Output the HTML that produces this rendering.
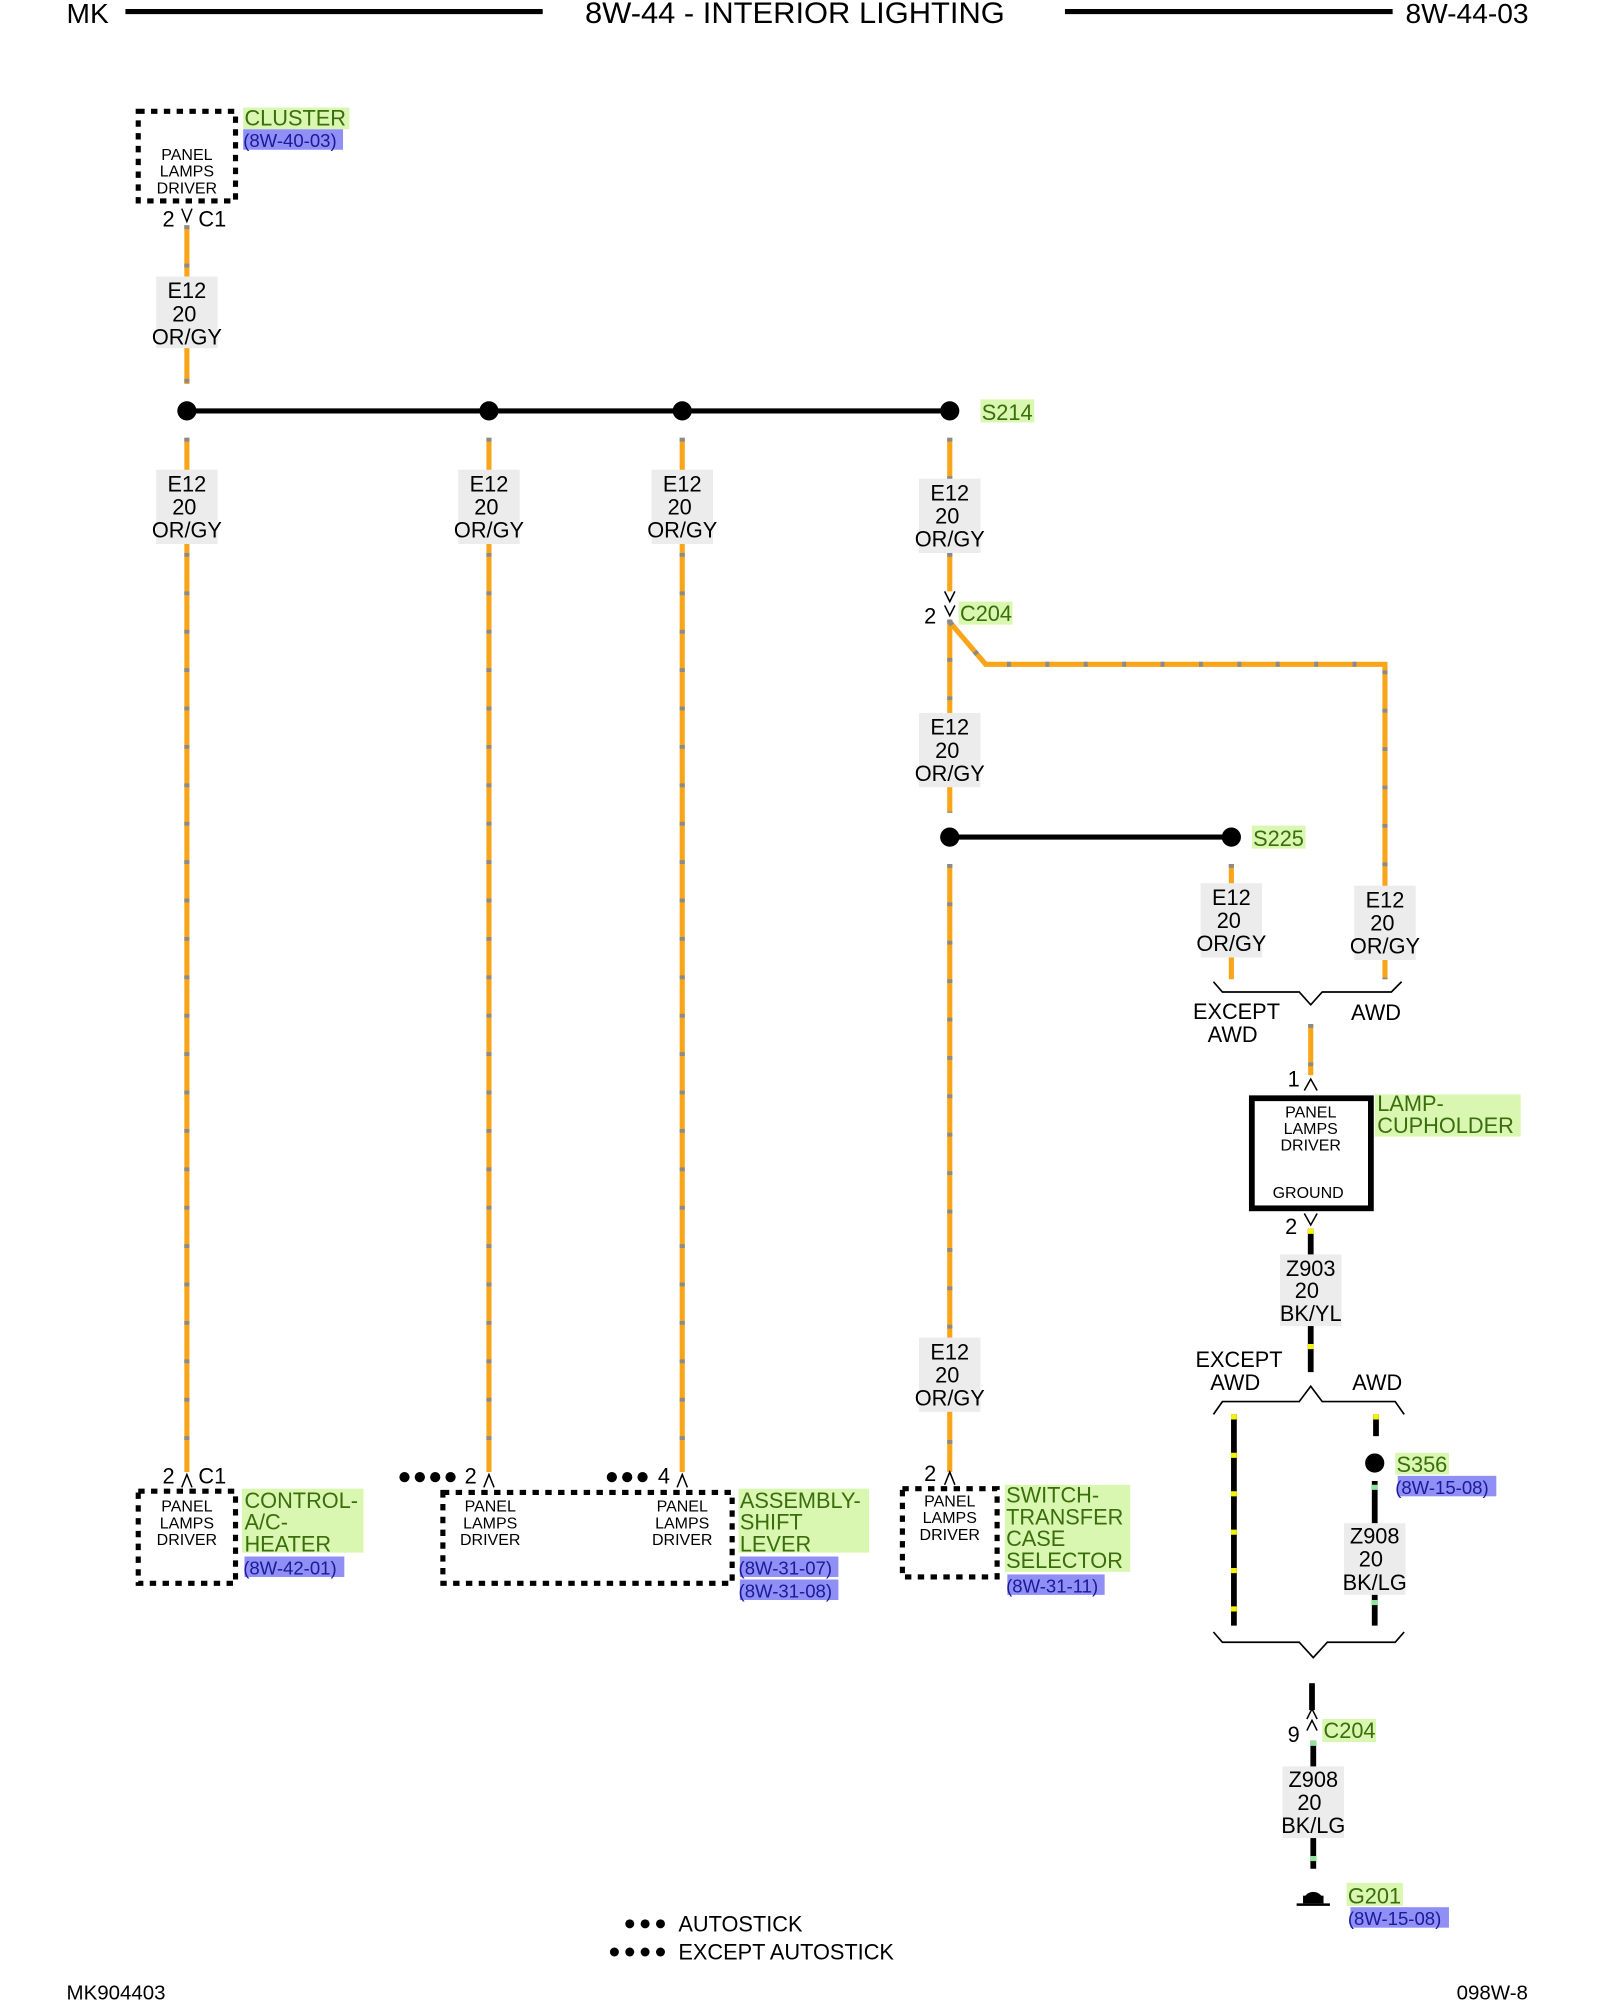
<!DOCTYPE html>
<html><head><meta charset="utf-8"><style>
html,body{margin:0;padding:0;background:#fff;}
svg{display:block;}
text{font-family:"Liberation Sans",Arial,sans-serif;fill:#000;}
.or{stroke:#f9a51a;stroke-width:4;fill:none}
.og{stroke:#8a8a8a;stroke-width:4;fill:none;stroke-dasharray:3 27}
.bk{stroke:#000;stroke-width:4.5;fill:none}
.yl{stroke:#f5f500;stroke-width:4.5;fill:none;stroke-dasharray:4 26}
.lg{stroke:#8fe39a;stroke-width:4.5;fill:none;stroke-dasharray:4 26}
.lb{fill:#ececec}
.w{font-size:17px;text-anchor:middle}
.s{font-size:12.5px;text-anchor:middle}
.g{fill:#d9f7b0}
.gt{fill:#3a6e0c;font-size:17px}
.b{fill:#8f8ff5}
.bt{fill:#1a1a9a;font-size:14.5px}
.dash{fill:none;stroke:#000;stroke-width:4;stroke-dasharray:5 5}
.br{fill:none;stroke:#000;stroke-width:1.3}
.cn{fill:none;stroke:#000;stroke-width:1.2}
</style></head><body>
<svg width="1600" height="2000" viewBox="0 0 1250 1562.5" xmlns="http://www.w3.org/2000/svg">
<!-- header -->
<text x="52" y="18" font-size="22">MK</text>
<line x1="98" y1="9" x2="424" y2="9" stroke="#000" stroke-width="4"/>
<text x="621" y="18" font-size="23" text-anchor="middle" textLength="328" lengthAdjust="spacingAndGlyphs">8W-44 - INTERIOR LIGHTING</text>
<line x1="832" y1="9" x2="1088" y2="9" stroke="#000" stroke-width="4"/>
<text x="1098" y="18" font-size="22">8W-44-03</text>

<!-- cluster -->
<rect x="108" y="87" width="76" height="70" class="dash"/>
<text class="s" x="146" y="125">PANEL</text><text class="s" x="146" y="138">LAMPS</text><text class="s" x="146" y="151">DRIVER</text>
<rect x="190" y="84" width="83" height="17" class="g"/><text x="191" y="98" class="gt">CLUSTER</text>
<rect x="190" y="101" width="78" height="16" class="b"/><text x="190" y="115" class="bt">(8W-40-03)</text>
<text x="127" y="177" font-size="17">2</text><text x="155" y="177" font-size="17">C1</text>
<path class="cn" d="M142 163 L146 173 L150 163"/>

<!-- wires orange -->
<g>
<path class="or" d="M146 176V300"/><path class="og" d="M146 176V300"/>
<path class="or" d="M146 342V1150"/><path class="og" d="M146 342V1150"/>
<path class="or" d="M382 342V1150"/><path class="og" d="M382 342V1150"/>
<path class="or" d="M533 342V1150"/><path class="og" d="M533 342V1150"/>
<path class="or" d="M742 342V462"/><path class="og" d="M742 342V462"/>
<path class="or" d="M742 484V635"/><path class="og" d="M742 484V635"/>
<path class="or" d="M742 486L770 519H1082V765"/><path class="og" d="M742 486L770 519H1082V765"/>
<path class="or" d="M742 675V1150"/><path class="og" d="M742 675V1150"/>
<path class="or" d="M962 675V765"/><path class="og" d="M962 675V765"/>
<path class="or" d="M1024 800V840"/><path class="og" d="M1024 800V840"/>
</g>

<!-- bus S214 -->
<line x1="146" y1="321" x2="742" y2="321" stroke="#000" stroke-width="4"/>
<circle cx="146" cy="321" r="7.5"/><circle cx="382" cy="321" r="7.5"/><circle cx="533" cy="321" r="7.5"/><circle cx="742" cy="321" r="7.5"/>
<rect x="766" y="312" width="42" height="18" class="g"/><text x="767" y="328" class="gt">S214</text>

<!-- wire labels -->
<g>
<rect class="lb" x="122" y="216" width="48" height="56"/><text class="w" x="146" y="233">E12</text><text class="w" x="144" y="251">20</text><text class="w" x="146" y="269">OR/GY</text>
<rect class="lb" x="122" y="367" width="48" height="58"/><text class="w" x="146" y="384">E12</text><text class="w" x="144" y="402">20</text><text class="w" x="146" y="420">OR/GY</text>
<rect class="lb" x="358" y="367" width="48" height="58"/><text class="w" x="382" y="384">E12</text><text class="w" x="380" y="402">20</text><text class="w" x="382" y="420">OR/GY</text>
<rect class="lb" x="509" y="367" width="48" height="58"/><text class="w" x="533" y="384">E12</text><text class="w" x="531" y="402">20</text><text class="w" x="533" y="420">OR/GY</text>
<rect class="lb" x="718" y="374" width="48" height="58"/><text class="w" x="742" y="391">E12</text><text class="w" x="740" y="409">20</text><text class="w" x="742" y="427">OR/GY</text>
<rect class="lb" x="718" y="557" width="48" height="58"/><text class="w" x="742" y="574">E12</text><text class="w" x="740" y="592">20</text><text class="w" x="742" y="610">OR/GY</text>
<rect class="lb" x="718" y="1045" width="48" height="58"/><text class="w" x="742" y="1062">E12</text><text class="w" x="740" y="1080">20</text><text class="w" x="742" y="1098">OR/GY</text>
<rect class="lb" x="938" y="690" width="48" height="58"/><text class="w" x="962" y="707">E12</text><text class="w" x="960" y="725">20</text><text class="w" x="962" y="743">OR/GY</text>
<rect class="lb" x="1058" y="692" width="48" height="58"/><text class="w" x="1082" y="709">E12</text><text class="w" x="1080" y="727">20</text><text class="w" x="1082" y="745">OR/GY</text>
</g>

<!-- C204 top -->
<path class="cn" d="M738 462L742 470L746 462M738 473L742 481L746 473"/>
<text x="722" y="487" font-size="17">2</text>
<rect x="749" y="470" width="42" height="18" class="g"/><text x="750" y="485" class="gt">C204</text>

<!-- S225 -->
<line x1="742" y1="654" x2="962" y2="654" stroke="#000" stroke-width="4"/>
<circle cx="742" cy="654" r="7.5"/><circle cx="962" cy="654" r="7.5"/>
<rect x="978" y="645" width="42" height="18" class="g"/><text x="979" y="661" class="gt">S225</text>

<!-- brace 1 -->
<path class="br" d="M948 767L955 775H1015L1024 785L1033 775H1087L1095 767"/>
<text class="w" x="966" y="796">EXCEPT</text><text class="w" x="963" y="814">AWD</text>
<text class="w" x="1075" y="797">AWD</text>

<!-- lamp-cupholder -->
<text x="1006" y="849" font-size="17">1</text>
<path class="cn" d="M1019 852L1024 843L1029 852"/>
<rect x="978" y="858" width="93" height="86" fill="none" stroke="#000" stroke-width="4.5"/>
<text class="s" x="1024" y="873">PANEL</text><text class="s" x="1024" y="886">LAMPS</text><text class="s" x="1024" y="899">DRIVER</text>
<text class="s" x="1022" y="936">GROUND</text>
<rect x="1074" y="855" width="114" height="33" class="g"/><text x="1076" y="868" class="gt">LAMP-</text><text x="1076" y="885" class="gt">CUPHOLDER</text>

<text x="1004" y="964" font-size="17">2</text>
<path class="cn" d="M1019 948L1024 957L1029 948"/>
<path class="bk" d="M1024 960V1072"/><path class="yl" d="M1024 960V1072"/>
<rect class="lb" x="1000" y="980" width="48" height="56"/><text class="w" x="1024" y="997">Z903</text><text class="w" x="1021" y="1014">20</text><text class="w" x="1024" y="1032">BK/YL</text>

<!-- brace 2 -->
<text class="w" x="968" y="1068">EXCEPT</text><text class="w" x="965" y="1086">AWD</text>
<text class="w" x="1076" y="1086">AWD</text>
<path class="br" d="M948 1105L955 1095H1015L1024 1083L1033 1095H1090L1097 1105"/>

<path class="bk" d="M964 1105V1270"/><path class="yl" d="M964 1105V1270"/>
<path class="bk" d="M1075 1105V1122"/><path class="yl" d="M1075 1105V1122"/>
<circle cx="1074" cy="1143" r="7.5"/>
<rect x="1090" y="1135" width="42" height="17" class="g"/><text x="1091" y="1150" class="gt">S356</text>
<rect x="1092" y="1153" width="77" height="16" class="b"/><text x="1090" y="1167" class="bt">(8W-15-08)</text>
<path class="bk" d="M1074 1157V1270"/><path class="lg" d="M1074 1160V1270"/>
<rect class="lb" x="1050" y="1190" width="48" height="56"/><text class="w" x="1074" y="1206">Z908</text><text class="w" x="1071" y="1224">20</text><text class="w" x="1074" y="1242">BK/LG</text>

<!-- brace 3 -->
<path class="br" d="M948 1275L955 1283H1015L1026 1295L1037 1283H1090L1097 1275"/>

<path class="bk" d="M1025 1315V1336"/>
<path class="cn" d="M1021 1343L1025 1335L1029 1343M1021 1352L1025 1344L1029 1352"/>
<text x="1006" y="1361" font-size="17">9</text>
<rect x="1033" y="1343" width="42" height="18" class="g"/><text x="1034" y="1358" class="gt">C204</text>
<path class="bk" d="M1026 1360V1460"/><path class="lg" d="M1026 1360V1460"/>
<rect class="lb" x="1002" y="1380" width="48" height="56"/><text class="w" x="1026" y="1396">Z908</text><text class="w" x="1023" y="1414">20</text><text class="w" x="1026" y="1432">BK/LG</text>
<path d="M1018 1486 A8 8 0 0 1 1034 1486Z"/><rect x="1018" y="1481" width="16" height="6"/>
<line x1="1013" y1="1488" x2="1039" y2="1488" stroke="#000" stroke-width="2"/>
<rect x="1052" y="1471" width="44" height="18" class="g"/><text x="1053" y="1487" class="gt">G201</text>
<rect x="1055" y="1490" width="77" height="16" class="b"/><text x="1053" y="1504" class="bt">(8W-15-08)</text>

<!-- bottom components -->
<text x="127" y="1159" font-size="17">2</text><text x="155" y="1159" font-size="17">C1</text>
<path class="cn" d="M142 1162L146 1152L150 1162"/>
<rect x="108" y="1165" width="76" height="72" class="dash"/>
<text class="s" x="146" y="1181">PANEL</text><text class="s" x="146" y="1194">LAMPS</text><text class="s" x="146" y="1207">DRIVER</text>
<rect x="189" y="1163" width="95" height="50" class="g"/><text x="191" y="1178" class="gt">CONTROL-</text><text x="191" y="1195" class="gt">A/C-</text><text x="191" y="1212" class="gt">HEATER</text>
<rect x="191" y="1216" width="78" height="16" class="b"/><text x="190" y="1230" class="bt">(8W-42-01)</text>

<g fill="#000"><circle cx="316" cy="1154" r="4"/><circle cx="328" cy="1154" r="4"/><circle cx="340" cy="1154" r="4"/><circle cx="352" cy="1154" r="4"/>
<circle cx="478" cy="1154" r="4"/><circle cx="490" cy="1154" r="4"/><circle cx="502" cy="1154" r="4"/></g>
<text x="363" y="1159" font-size="17">2</text>
<path class="cn" d="M378 1162L382 1152L386 1162"/>
<text x="514" y="1159" font-size="17">4</text>
<path class="cn" d="M529 1162L533 1152L537 1162"/>
<rect x="346" y="1166" width="226" height="71" class="dash"/>
<text class="s" x="383" y="1181">PANEL</text><text class="s" x="383" y="1194">LAMPS</text><text class="s" x="383" y="1207">DRIVER</text>
<text class="s" x="533" y="1181">PANEL</text><text class="s" x="533" y="1194">LAMPS</text><text class="s" x="533" y="1207">DRIVER</text>
<rect x="577" y="1163" width="102" height="50" class="g"/><text x="578" y="1178" class="gt">ASSEMBLY-</text><text x="578" y="1195" class="gt">SHIFT</text><text x="578" y="1212" class="gt">LEVER</text>
<rect x="578" y="1216" width="77" height="16" class="b"/><text x="577" y="1230" class="bt">(8W-31-07)</text>
<rect x="578" y="1234" width="77" height="16" class="b"/><text x="577" y="1248" class="bt">(8W-31-08)</text>

<text x="722" y="1157" font-size="17">2</text>
<path class="cn" d="M738 1160L742 1150L746 1160"/>
<rect x="705" y="1163" width="74" height="69" class="dash"/>
<text class="s" x="742" y="1177">PANEL</text><text class="s" x="742" y="1190">LAMPS</text><text class="s" x="742" y="1203">DRIVER</text>
<rect x="785" y="1160" width="98" height="68" class="g"/><text x="786" y="1174" class="gt">SWITCH-</text><text x="786" y="1191" class="gt">TRANSFER</text><text x="786" y="1208" class="gt">CASE</text><text x="786" y="1225" class="gt">SELECTOR</text>
<rect x="787" y="1230" width="76" height="16" class="b"/><text x="786" y="1244" class="bt">(8W-31-11)</text>

<!-- legend -->
<g fill="#000"><circle cx="492" cy="1503" r="3.5"/><circle cx="504" cy="1503" r="3.5"/><circle cx="516" cy="1503" r="3.5"/>
<circle cx="480" cy="1525" r="3.5"/><circle cx="492" cy="1525" r="3.5"/><circle cx="504" cy="1525" r="3.5"/><circle cx="516" cy="1525" r="3.5"/></g>
<text x="530" y="1509" font-size="17">AUTOSTICK</text>
<text x="530" y="1531" font-size="17">EXCEPT AUTOSTICK</text>

<text x="52" y="1562" font-size="16">MK904403</text>
<text x="1138" y="1562" font-size="16">098W-8</text>
</svg>
</body></html>
